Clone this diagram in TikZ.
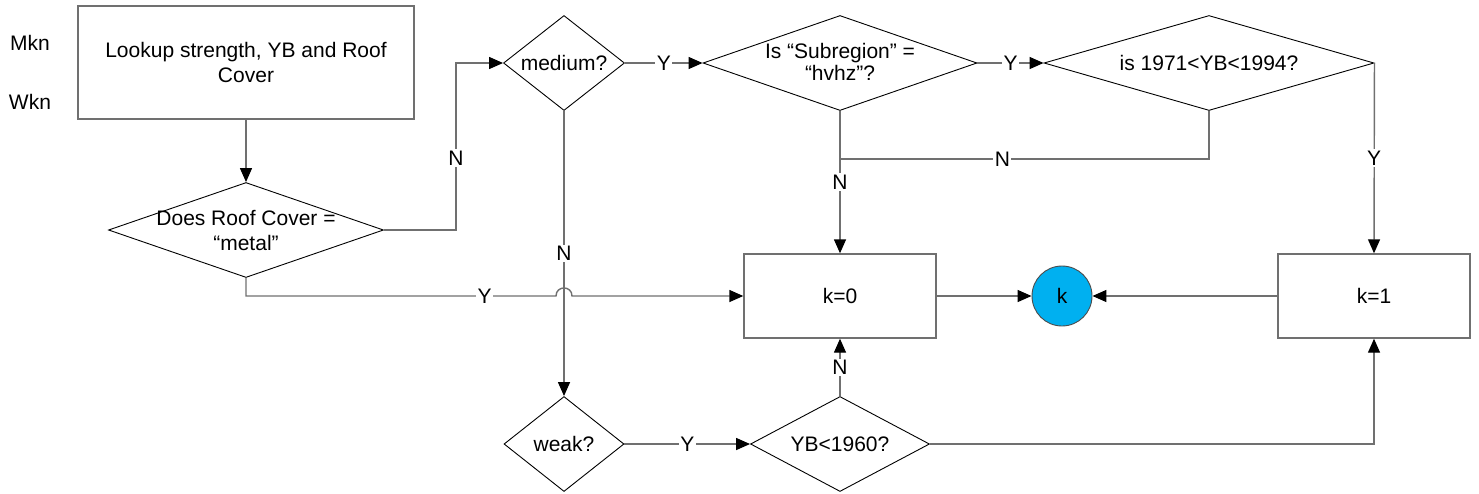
\documentclass[tikz,border=0pt]{standalone}
\usepackage{fontspec}
\setmainfont{Liberation Sans}
\usetikzlibrary{shapes.geometric,arrows.meta}
\definecolor{linegray}{HTML}{707070}
\definecolor{kblue}{HTML}{00B0F0}
\begin{document}
\begin{tikzpicture}[x=1pt,y=-1pt,
  font=\fontsize{21}{25}\selectfont,
  procbox/.style={draw=linegray, line width=1.4pt, rectangle, inner sep=0pt},
  decision/.style={draw=black, line width=0.9pt, diamond, inner sep=0pt},
  txt/.style={align=center, inner sep=0pt},
  conn/.style={draw=linegray, line width=1.4pt},
  arr/.style={conn, -{Triangle[length=14pt,width=12pt,color=black]}},
  lbl/.style={fill=white, inner sep=1.5pt},
  endpoint/.style={circle, draw=black!70, fill=kblue, line width=0.9pt, minimum size=60pt, inner sep=0pt}]
\useasboundingbox (0,0) rectangle (1479,493);

% side labels
\node[txt] (mkn) at (30,43) {Mkn};
\node[txt] (wkn) at (30,102) {Wkn};

% process boxes
\node[procbox, minimum width=336pt, minimum height=113pt] (lookup) at (246,62.5) {};
\node[txt, baseline=0pt] (lookupT) at (lookup) {Lookup strength, YB and Roof\\Cover};
\node[procbox, minimum width=192pt, minimum height=84pt] (k0) at (840,296) {};
\node[txt] (k0T) at (k0) {k=0};
\node[procbox, minimum width=192pt, minimum height=84pt] (k1) at (1374,296) {};
\node[txt] (k1T) at (k1) {k=1};
\node[endpoint] (kc) at (1062,296) {k};

% decisions
\node[decision, minimum width=275pt, minimum height=95pt] (roof) at (246,230) {};
\node[txt] (roofT) at (roof) {Does Roof Cover =\\“metal”};
\node[decision, minimum width=121pt, minimum height=95pt] (medium) at (564,63) {};
\node[txt] (mediumT) at (medium) {medium?};
\node[decision, minimum width=274pt, minimum height=95pt] (subreg) at (840,63) {};
\node[txt, align=center, font=\fontsize{21}{22}\selectfont] (subregT) at (840,62) {Is “Subregion” =\\“hvhz”?};
\node[decision, minimum width=330pt, minimum height=95pt] (yearq) at (1209,63) {};
\node[txt] (yearqT) at (yearq) {is 1971<YB<1994?};
\node[decision, minimum width=120pt, minimum height=95pt] (weak) at (564,444) {};
\node[txt] (weakT) at (weak) {weak?};
\node[decision, minimum width=179pt, minimum height=95pt] (ybq) at (840,444) {};
\node[txt] (ybqT) at (ybq) {YB<1960?};

% helper points
\coordinate (nbend) at (456,230);
\coordinate (merge) at (840,159);
\coordinate (hopL) at (556,296);
\coordinate (hopR) at (572,296);

% connectors
\draw[arr] (lookup.south) -- (roof.north);
\draw[arr] (roof.east) -- (nbend) |- node[lbl, pos=0.216] {N} (medium.west);
\draw[arr] (medium.east) -- node[lbl] {Y} (subreg.west);
\draw[arr] (subreg.east) -- node[lbl] {Y} (yearq.west);
\draw[arr] (subreg.south) -- node[lbl] {N} (k0.north);
\draw[conn] (yearq.south) |- node[lbl, pos=0.78] {N} (merge);
\draw[arr] (yearq.east) -- node[lbl] {Y} (k1.north);
\draw[arr] (medium.south) -- node[lbl] {N} (weak.north);
\draw[arr] (roof.south) |- node[lbl, pos=0.885] {Y} (hopL)
  .. controls +(0,-10.7) and +(0,-10.7) .. (hopR) -- (k0.west);
\draw[arr] (weak.east) -- node[lbl] {Y} (ybq.west);
\draw[arr] (ybq.north) -- node[lbl] {N} (k0.south);
\draw[arr] (ybq.east) -| (k1.south);
\draw[arr] (k0.east) -- (kc.west);
\draw[arr] (k1.west) -- (kc.east);
\end{tikzpicture}
\end{document}
